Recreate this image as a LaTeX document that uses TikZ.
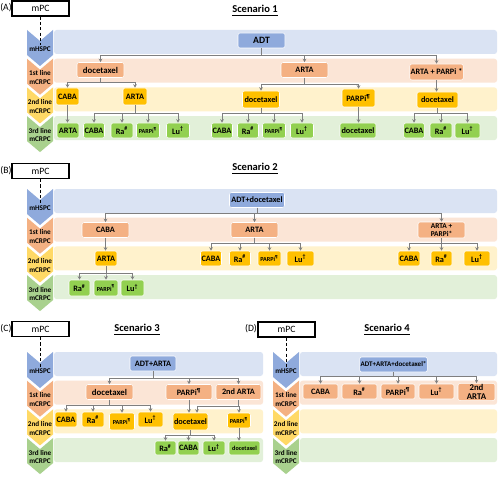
\documentclass[tikz,border=0pt]{standalone}
\usepackage{fontspec}
\setmainfont{Carlito}
\usetikzlibrary{arrows.meta, positioning, calc}

\definecolor{bandblue}{HTML}{DAE3F3}
\definecolor{bandorange}{HTML}{FBE5D6}
\definecolor{bandyellow}{HTML}{FFF2CC}
\definecolor{bandgreen}{HTML}{E2F0D9}
\definecolor{chevblue}{HTML}{8FAADC}
\definecolor{chevorange}{HTML}{F4B183}
\definecolor{chevyellow}{HTML}{FFD966}
\definecolor{chevgreen}{HTML}{A9D18E}
\definecolor{nodeblue}{HTML}{8FAADC}
\definecolor{nodeorange}{HTML}{F4B183}
\definecolor{nodeyellow}{HTML}{FFC000}
\definecolor{nodegreen}{HTML}{92D050}
\definecolor{linkgray}{HTML}{7F7F7F}

\begin{document}
\begin{tikzpicture}[x=0.2mm, y=-0.2mm,
        every node/.style={inner sep=0.5pt, align=center, text=black, font=\fontsize{4.7}{5}\selectfont\bfseries},
        box/.style={rounded corners=1.2pt, draw=white, line width=0.3pt, minimum width=#1*0.2mm, minimum height=3mm},
        bnode/.style={box=#1, fill=nodeblue},
        onode/.style={box=#1, fill=nodeorange},
        ynode/.style={box=#1, fill=nodeyellow},
        gnode/.style={box=#1, fill=nodegreen},
        smalltxt/.style={font=\fontsize{3.5}{4}\selectfont\bfseries},
        mpcbox/.style={draw=black, line width=0.8pt, fill=white, minimum width=11.4mm, minimum height=3mm, font=\fontsize{5.5}{6}\selectfont},
        mpcline/.style={dashed, dash pattern=on 1.8pt off 1.2pt, line width=0.8pt},
        scentitle/.style={font=\fontsize{6}{7}\selectfont\bfseries},
        panellbl/.style={font=\fontsize{5.5}{6}\selectfont},
        stagelbl/.style={font=\fontsize{4.1}{4.8}\selectfont\bfseries},
        link/.style={draw=linkgray, line width=0.5pt, -{Stealth[length=2pt, width=2pt]}}
    ]
        \fill[white] (0,0) rectangle (500,477);
        \useasboundingbox (0,0) rectangle (500,477);

        % Bands and chevrons
        \foreach \px/\ex/\py in {27/497/30, 27/497/189, 27/263/352, 273/497/352}{
            \foreach \k/\cc/\bc/\lab in {0/chevblue/bandblue/mHSPC, 1/chevorange/bandorange/{1st line\\mCRPC}, 2/chevyellow/bandyellow/{2nd line\\mCRPC}, 3/chevgreen/bandgreen/{3rd line\\mCRPC}}{
                \pgfmathsetmacro\yt{\py+28.7*\k}
                \fill[\bc, rounded corners=1.5pt] (\px+27,\yt) rectangle (\ex,\yt+24);
                \fill[\cc] (\px,\yt) -- (\px+13,\yt+11) -- (\px+26,\yt) -- (\px+26,\yt+25) -- (\px+13,\yt+36) -- (\px,\yt+25) -- cycle;
                \node[stagelbl] at (\px+13,\yt+19) {\lab};
            }
        }

        % Scenario 1
        \node[panellbl] (lblA) at (6,8) {(A)};
        \node[mpcbox] (mpcA) at (40.5,8.5) {mPC};
        \coordinate (endA) at (40.5,45);
        \draw[mpcline] (mpcA.south) -- (endA);
        \node[scentitle] (ttlA) at (255,11) {\underline{Scenario 1}};
        \node[bnode=47, font=\fontsize{5.5}{6}\selectfont\bfseries] (adtA) at (261.5,40.5) {ADT};
        \node[onode=47, font=\fontsize{5}{6}\selectfont\bfseries] (dtxA1) at (100.5,70) {docetaxel};
        \node[onode=47] (artaA1) at (304.5,70) {ARTA};
        \node[onode=53, minimum height=3.2mm] (apA1) at (436.5,72) {ARTA + PARPi *};
        \node[ynode=23, minimum height=3.4mm] (cabaA2) at (67.5,96.5) {CABA};
        \node[ynode=24, minimum height=3.4mm] (artaA2) at (135,96.5) {ARTA};
        \node[ynode=37, minimum height=3.4mm] (dtxA2) at (261,99.5) {docetaxel};
        \node[ynode=33, minimum height=3.6mm] (parpA2) at (358.5,98) {PARPi\textsuperscript{\P}};
        \node[ynode=41, minimum height=3.2mm] (dtxA2b) at (437.5,100) {docetaxel};
        \node[gnode=22] (artaA3) at (68,130.5) {ARTA};
        \node[gnode=21] (cabaA3) at (94,130.5) {CABA};
        \node[gnode=22] (raA3) at (122,130.5) {Ra\textsuperscript{\#}};
        \node[gnode=23, smalltxt] (parpA3) at (148,130.5) {PARPi\textsuperscript{\P}};
        \node[gnode=23] (luA3) at (178,130.5) {Lu\textsuperscript{\textdagger}};
        \node[gnode=21] (cabaA3b) at (222,130.5) {CABA};
        \node[gnode=21] (raA3b) at (248,130.5) {Ra\textsuperscript{\#}};
        \node[gnode=23, smalltxt] (parpA3b) at (274,130.5) {PARPi\textsuperscript{\P}};
        \node[gnode=23] (luA3b) at (302,130.5) {Lu\textsuperscript{\textdagger}};
        \node[gnode=36] (dtxA3) at (358,130.5) {docetaxel};
        \node[gnode=19] (cabaA3c) at (414,130.5) {CABA};
        \node[gnode=22] (raA3c) at (441,130.5) {Ra\textsuperscript{\#}};
        \node[gnode=25] (luA3c) at (467.5,130.5) {Lu\textsuperscript{\textdagger}};

        \draw[link] (adtA.south) -- ++(0,7) -| (dtxA1.north);
        \draw[link] (adtA.south) -- ++(0,7) -| (artaA1.north);
        \draw[link] (adtA.south) -- ++(0,7) -| (apA1.north);
        \draw[link] (dtxA1.south) -- ++(0,5) -| (cabaA2.north);
        \draw[link] (dtxA1.south) -- ++(0,5) -| (artaA2.north);
        \draw[link] (artaA1.south) -- ++(0,7) -| (dtxA2.north);
        \draw[link] (artaA1.south) -- ++(0,7) -| (parpA2.north);
        \draw[link] (apA1.south) -- (apA1.south |- dtxA2b.north);
        \draw[link] (cabaA2.south) -- (cabaA2.south |- artaA3.north);
        \draw[link] (artaA2.south) -- ++(0,8) -| (cabaA3.north);
        \draw[link] (artaA2.south) -- ++(0,8) -| (raA3.north);
        \draw[link] (artaA2.south) -- ++(0,8) -| (parpA3.north);
        \draw[link] (artaA2.south) -- ++(0,8) -| (luA3.north);
        \draw[link] (dtxA2.south) -- ++(0,5) -| (cabaA3b.north);
        \draw[link] (dtxA2.south) -- ++(0,5) -| (raA3b.north);
        \draw[link] (dtxA2.south) -- ++(0,5) -| (parpA3b.north);
        \draw[link] (dtxA2.south) -- ++(0,5) -| (luA3b.north);
        \draw[link] (parpA2.south) -- (parpA2.south |- dtxA3.north);
        \draw[link] (dtxA2b.south) -- ++(0,5) -| (cabaA3c.north);
        \draw[link] (dtxA2b.south) -- ++(0,5) -| (raA3c.north);
        \draw[link] (dtxA2b.south) -- ++(0,5) -| (luA3c.north);

        % Scenario 2
        \node[panellbl] (lblB) at (6,171) {(B)};
        \node[mpcbox] (mpcB) at (40.5,171) {mPC};
        \coordinate (endB) at (40.5,204);
        \draw[mpcline] (mpcB.south) -- (endB);
        \node[scentitle] (ttlB) at (255,169) {\underline{Scenario 2}};
        \node[bnode=55] (adtB) at (257,200) {ADT+docetaxel};
        \node[onode=47] (cabaB1) at (105.5,230) {CABA};
        \node[onode=47] (artaB1) at (254.5,230) {ARTA};
        \node[onode=47, minimum height=3.2mm, font=\fontsize{4.2}{4.6}\selectfont\bfseries] (apB1) at (441.5,230) {ARTA +\\PARPi*};
        \node[ynode=22] (artaB2) at (106,258.5) {ARTA};
        \node[ynode=21] (cabaB2) at (211,258.5) {CABA};
        \node[ynode=21] (raB2) at (240,258.5) {Ra\textsuperscript{\#}};
        \node[ynode=23, smalltxt] (parpB2) at (269.5,258.5) {PARPi\textsuperscript{\P}};
        \node[ynode=27] (luB2) at (300.5,258.5) {Lu\textsuperscript{\textdagger}};
        \node[ynode=22] (cabaB2b) at (409,258.5) {CABA};
        \node[ynode=21] (raB2b) at (441.5,258.5) {Ra\textsuperscript{\#}};
        \node[ynode=26] (luB2b) at (477,258.5) {Lu\textsuperscript{\textdagger}};
        \node[gnode=21, minimum height=3.2mm] (raB3) at (79.5,288) {Ra\textsuperscript{\#}};
        \node[gnode=24, minimum height=3.2mm, smalltxt] (parpB3) at (106,288) {PARPi\textsuperscript{\P}};
        \node[gnode=23, minimum height=3.2mm] (luB3) at (132.5,288) {Lu\textsuperscript{\textdagger}};

        \draw[link] (adtB.south) -- ++(0,5.5) -| (cabaB1.north);
        \draw[link] (adtB.south) -- ++(0,5.5) -| (artaB1.north);
        \draw[link] (adtB.south) -- ++(0,5.5) -| (apB1.north);
        \draw[link] (cabaB1.south) -- (cabaB1.south |- artaB2.north);
        \draw[link] (artaB1.south) -- ++(0,5.5) -| (cabaB2.north);
        \draw[link] (artaB1.south) -- ++(0,5.5) -| (raB2.north);
        \draw[link] (artaB1.south) -- ++(0,5.5) -| (parpB2.north);
        \draw[link] (artaB1.south) -- ++(0,5.5) -| (luB2.north);
        \draw[link] (apB1.south) -- ++(0,5) -| (cabaB2b.north);
        \draw[link] (apB1.south) -- ++(0,5) -| (raB2b.north);
        \draw[link] (apB1.south) -- ++(0,5) -| (luB2b.north);
        \draw[link] (artaB2.south) -- ++(0,7) -| (raB3.north);
        \draw[link] (artaB2.south) -- ++(0,7) -| (parpB3.north);
        \draw[link] (artaB2.south) -- ++(0,7) -| (luB3.north);

        % Scenario 3
        \node[panellbl] (lblC) at (6,329) {(C)};
        \node[mpcbox] (mpcC) at (40.5,329) {mPC};
        \coordinate (endC) at (40.5,367);
        \draw[mpcline] (mpcC.south) -- (endC);
        \node[scentitle] (ttlC) at (137,330) {\underline{Scenario 3}};
        \node[bnode=46] (adtC) at (153,363.5) {ADT+ARTA};
        \node[onode=47, font=\fontsize{5}{6}\selectfont\bfseries] (dtxC1) at (109.5,392) {docetaxel};
        \node[onode=46] (parpC1) at (189,392) {PARPi\textsuperscript{\P}};
        \node[onode=45] (artaC1) at (238.5,392) {2nd ARTA};
        \node[ynode=22] (cabaC2) at (66,419.5) {CABA};
        \node[ynode=22] (raC2) at (93,419.5) {Ra\textsuperscript{\#}};
        \node[ynode=25, minimum height=3.4mm, smalltxt] (parpC2) at (122,421.5) {PARPi\textsuperscript{\P}};
        \node[ynode=25] (luC2) at (150.5,419.5) {Lu\textsuperscript{\textdagger}};
        \node[ynode=34, minimum height=3.4mm] (dtxC2) at (190.5,421.5) {docetaxel};
        \node[ynode=23, smalltxt] (parpC2b) at (239,420.5) {PARPi\textsuperscript{\P}};
        \node[gnode=21, minimum height=2.8mm] (raC3) at (165.5,448) {Ra\textsuperscript{\#}};
        \node[gnode=21, minimum height=2.8mm] (cabaC3) at (188.5,448) {CABA};
        \node[gnode=22, minimum height=2.8mm] (luC3) at (214,448) {Lu\textsuperscript{\textdagger}};
        \node[gnode=31, minimum height=2.8mm, smalltxt] (dtxC3) at (244.5,448) {docetaxel};

        \draw[link] (adtC.south) -- ++(0,7) -| (dtxC1.north);
        \draw[link] (adtC.south) -- ++(0,7) -| (parpC1.north);
        \draw[link] (adtC.south) -- ++(0,7) -| (artaC1.north);
        \draw[link] (dtxC1.south) -- ++(0,6) -| (cabaC2.north);
        \draw[link] (dtxC1.south) -- ++(0,6) -| (raC2.north);
        \draw[link] (dtxC1.south) -- ++(0,6) -| (parpC2.north);
        \draw[link] (dtxC1.south) -- ++(0,6) -| (luC2.north);
        \draw[link] (parpC1.south) -- (parpC1.south |- dtxC2.north);
        \draw[link] (artaC1.south) -- ++(0,7) -| ([xshift=1.3mm]dtxC2.north);
        \draw[link] (artaC1.south) -- ++(0,7) -| (parpC2b.north);
        \draw[link] (dtxC2.south) -- ++(0,5) -| (raC3.north);
        \draw[link] (dtxC2.south) -- ++(0,5) -| (cabaC3.north);
        \draw[link] (dtxC2.south) -- ++(0,5) -| (luC3.north);
        \draw[link] (parpC2b.south) -- (parpC2b.south |- dtxC3.north);

        % Scenario 4
        \node[panellbl] (lblD) at (251,329) {(D)};
        \node[mpcbox] (mpcD) at (286.5,329.5) {mPC};
        \coordinate (endD) at (286.5,367);
        \draw[mpcline] (mpcD.south) -- (endD);
        \node[scentitle] (ttlD) at (387,330) {\underline{Scenario 4}};
        \node[bnode=63, font=\fontsize{4}{5}\selectfont\bfseries] (adtD) at (393.5,364.5) {ADT+ARTA+docetaxel*};
        \node[onode=35] (cabaD1) at (320.5,391.5) {CABA};
        \node[onode=35] (raD1) at (359.5,391.5) {Ra\textsuperscript{\#}};
        \node[onode=34] (parpD1) at (398,391.5) {PARPi\textsuperscript{\P}};
        \node[onode=35] (luD1) at (436.5,391.5) {Lu\textsuperscript{\textdagger}};
        \node[onode=37, minimum height=3.2mm, font=\fontsize{5}{5.2}\selectfont\bfseries] (artaD1) at (476.5,392) {2nd\\ARTA};

        \draw[link] (adtD.south) -- ++(0,4) -| (cabaD1.north);
        \draw[link] (adtD.south) -- ++(0,4) -| (raD1.north);
        \draw[link] (adtD.south) -- ++(0,4) -| (parpD1.north);
        \draw[link] (adtD.south) -- ++(0,4) -| (luD1.north);
        \draw[link] (adtD.south) -- ++(0,4) -| (artaD1.north);
    \end{tikzpicture}
\end{document}
